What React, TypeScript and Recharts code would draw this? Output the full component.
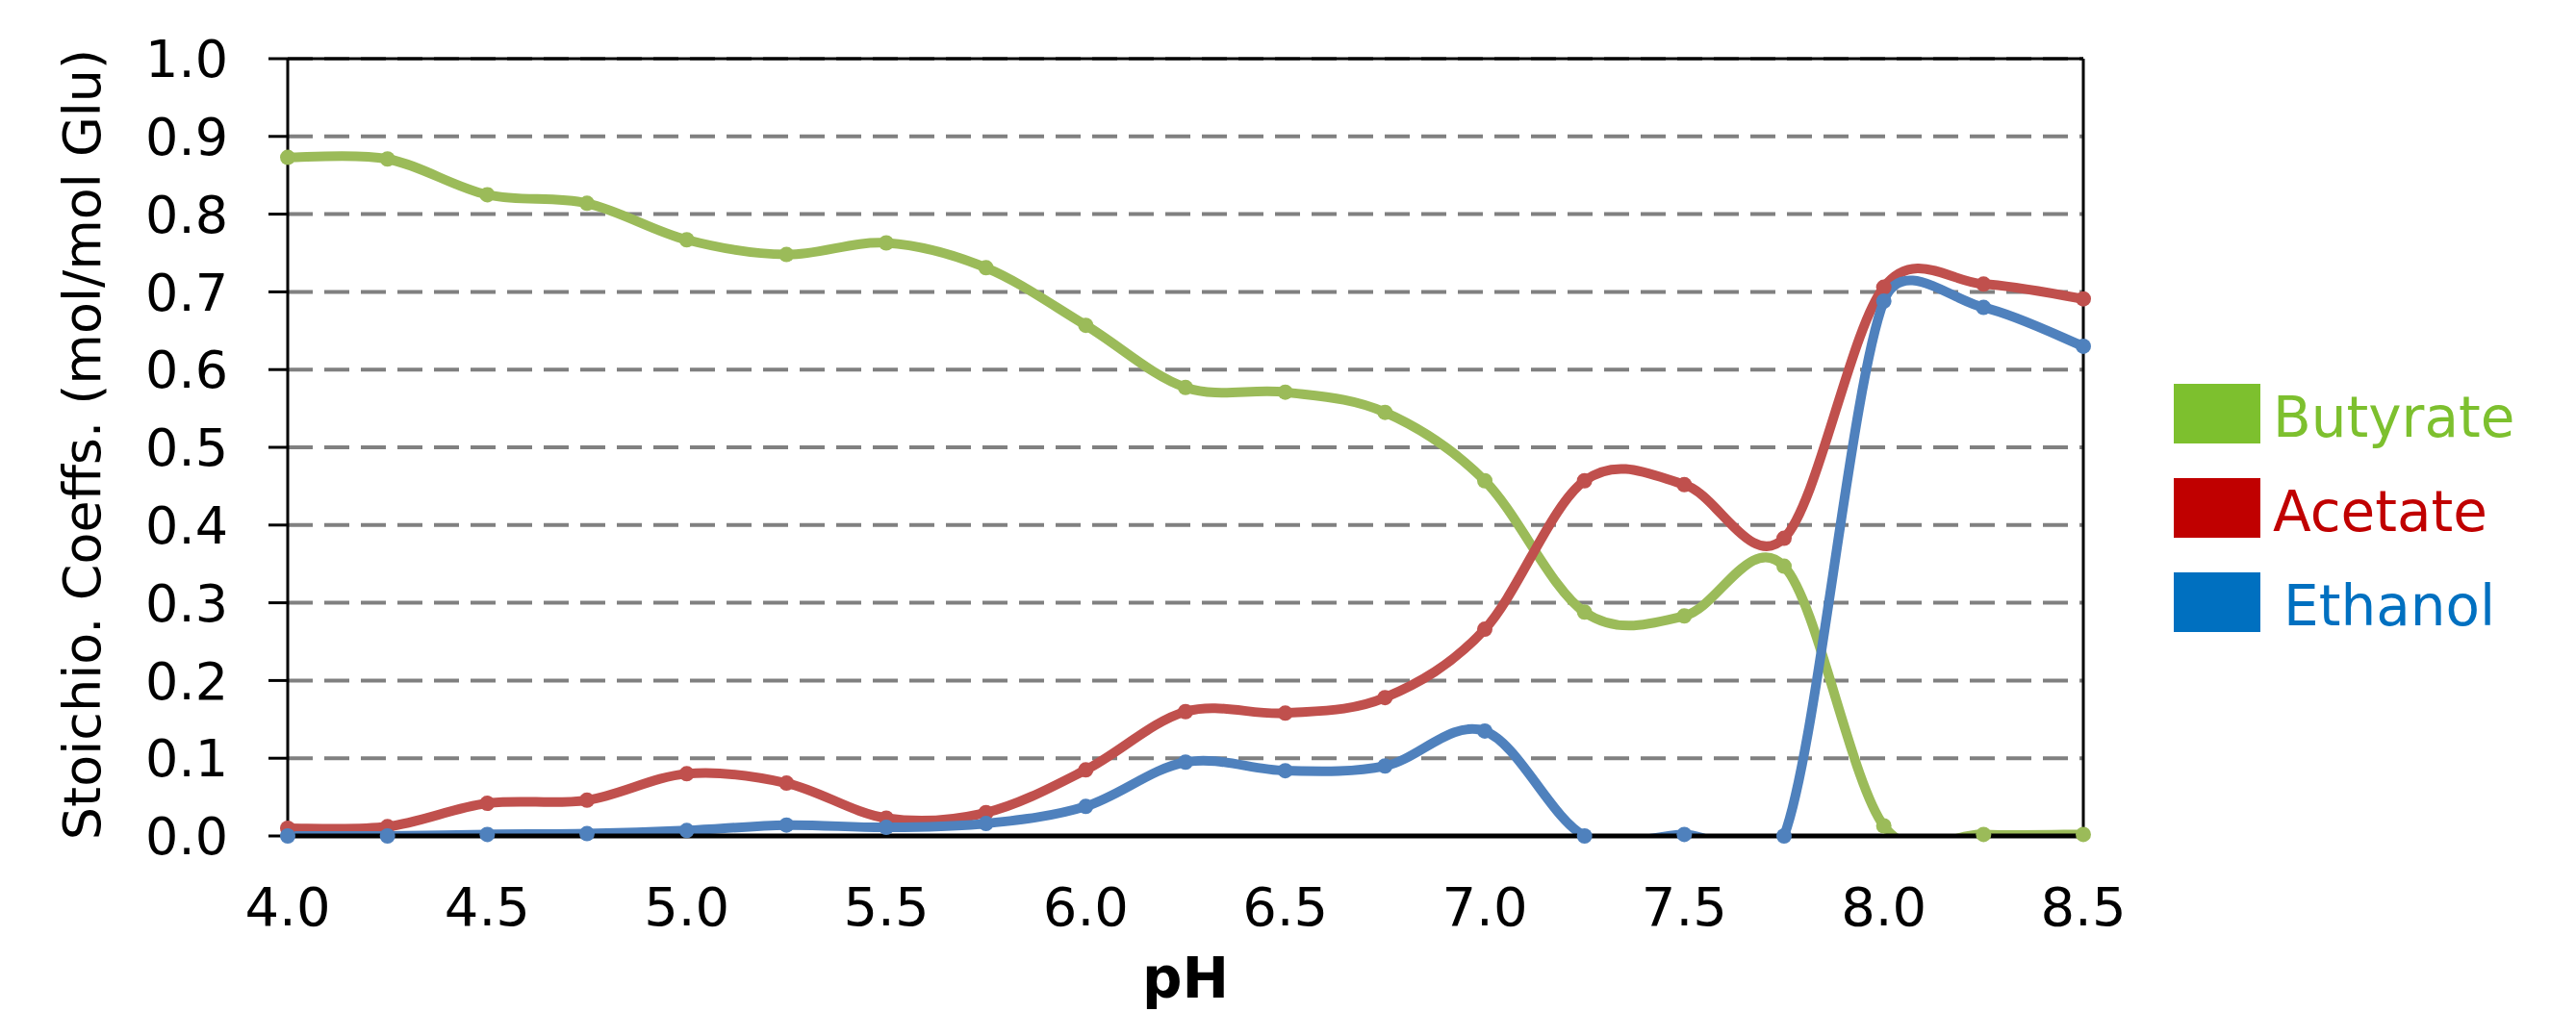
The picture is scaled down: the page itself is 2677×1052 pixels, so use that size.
import { LineChart, Line, XAxis, YAxis, CartesianGrid, ReferenceLine, Legend, Label } from "recharts";

const ph = [4.0, 4.25, 4.5, 4.75, 5.0, 5.25, 5.5, 5.75, 6.0, 6.25, 6.5, 6.75, 7.0, 7.25, 7.5, 7.75, 8.0, 8.25, 8.5];
const butyrate = [0.873, 0.871, 0.825, 0.814, 0.767, 0.748, 0.763, 0.731, 0.657, 0.577, 0.571, 0.545, 0.457, 0.288, 0.283, 0.347, 0.013, 0.002, 0.002];
const acetate = [0.01, 0.012, 0.042, 0.046, 0.08, 0.068, 0.023, 0.03, 0.085, 0.16, 0.158, 0.178, 0.266, 0.457, 0.452, 0.383, 0.706, 0.71, 0.691];
const ethanol = [0.0, 0.0, 0.002, 0.003, 0.007, 0.014, 0.011, 0.016, 0.038, 0.095, 0.084, 0.09, 0.135, 0.0, 0.002, 0.0, 0.688, 0.68, 0.63];

const xTicks = [4.0, 4.5, 5.0, 5.5, 6.0, 6.5, 7.0, 7.5, 8.0, 8.5];
const yTicks = [0, 0.1, 0.2, 0.3, 0.4, 0.5, 0.6, 0.7, 0.8, 0.9, 1.0];

const seriesKeys = ["butyrate", "acetate", "ethanol"];
const lineColors = ["#9BBB59", "#C0504D", "#4F81BD"];
const legendNames = ["Butyrate", "Acetate", "Ethanol"];
const legendColors = ["#7DC02E", "#C00000", "#0070C0"];

const FONT = "'DejaVu Sans', sans-serif";

const data = ph.map((x, i) => ({
  ph: x,
  butyrate: butyrate[i],
  acetate: acetate[i],
  ethanol: ethanol[i],
}));

const dist = (a: number[], b: number[]) => Math.hypot(a[0] - b[0], a[1] - b[1]);

// Excel-style smoothed line: Catmull-Rom bezier, control arms capped at half the segment
function excelSmooth(context: any) {
  let pts: number[][] = [];
  return {
    areaStart() {},
    areaEnd() {},
    lineStart() { pts = []; },
    lineEnd() {
      const n = pts.length;
      if (!n) return;
      context.moveTo(pts[0][0], pts[0][1]);
      for (let i = 0; i < n - 1; i++) {
        const p0 = pts[i - 1] || pts[i];
        const p1 = pts[i];
        const p2 = pts[i + 1];
        const p3 = pts[i + 2] || p2;
        const d02 = dist(p0, p2);
        const d12 = dist(p1, p2);
        const d13 = dist(p1, p3);
        let f1 = 1 / 6;
        let f2 = 1 / 6;
        if (d02 / 6 >= d12 / 2 && d02 > 0) f1 = d12 / d02 / 2;
        if (d13 / 6 >= d12 / 2 && d13 > 0) f2 = d12 / d13 / 2;
        context.bezierCurveTo(
          p1[0] + (p2[0] - p0[0]) * f1, p1[1] + (p2[1] - p0[1]) * f1,
          p2[0] - (p3[0] - p1[0]) * f2, p2[1] - (p3[1] - p1[1]) * f2,
          p2[0], p2[1]
        );
      }
    },
    point(x: number, y: number) { pts.push([+x, +y]); },
  };
}

function LegendBox() {
  return (
    <div style={{ fontFamily: FONT }}>
      {legendNames.map((name, i) => (
        <div key={name} style={{ display: "flex", alignItems: "center", height: 62, marginBottom: 36 }}>
          <div style={{ width: 90, height: 62, background: legendColors[i] }} />
          <span style={{ marginLeft: name === "Ethanol" ? 24 : 13, fontSize: 58, lineHeight: "62px", paddingTop: 8, color: legendColors[i] }}>{name}</span>
        </div>
      ))}
    </div>
  );
}

export default function App() {
  return (
    <div style={{ position: "absolute", left: 0, top: 0, width: 2677, height: 1052, background: "#fff" }}>
      <LineChart width={2677} height={1052} data={data} margin={{ top: 61, right: 512, bottom: 0, left: 0 }}>
        <CartesianGrid horizontal vertical={false} stroke="#808080" strokeWidth={4} strokeDasharray="26 12" />
        <XAxis
          dataKey="ph"
          type="number"
          domain={[4, 8.5]}
          ticks={xTicks}
          tickFormatter={(v: number) => v.toFixed(1)}
          height={183}
          axisLine={{ stroke: "#000", strokeWidth: 5 }}
          tickLine={false}
          tickSize={0}
          tickMargin={53}
          tick={{ fontSize: 56, fill: "#000", fontFamily: FONT }}
        >
          <Label
            content={() => (
              <text x={1232} y={1037} textAnchor="middle" fontSize={58} fontWeight="bold" fontFamily={FONT} fill="#000">pH</text>
            )}
          />
        </XAxis>
        <YAxis
          type="number"
          domain={[0, 1]}
          ticks={yTicks}
          allowDataOverflow
          tickFormatter={(v: number) => v.toFixed(1)}
          width={299}
          axisLine={{ stroke: "#000", strokeWidth: 3 }}
          tickLine={{ stroke: "#000", strokeWidth: 3 }}
          tickSize={20}
          tickMargin={42}
          tick={{ fontSize: 54, fill: "#000", fontFamily: FONT }}
        >
          <Label
            content={() => (
              <text x={85} y={462} transform="rotate(-90, 85, 462)" textAnchor="middle" dominantBaseline="central" fontSize={54} fontFamily={FONT} fill="#000">
                Stoichio. Coeffs. (mol/mol Glu)
              </text>
            )}
          />
        </YAxis>
        <ReferenceLine y={1} stroke="#000" strokeWidth={3} />
        <ReferenceLine x={8.5} stroke="#000" strokeWidth={3} />
        {seriesKeys.map((k, i) => (
          <Line
            key={k}
            dataKey={k}
            type={excelSmooth as any}
            stroke={lineColors[i]}
            strokeWidth={10}
            dot={{ r: 8, fill: lineColors[i], stroke: lineColors[i], strokeWidth: 0, clipDot: false } as any}
            activeDot={false}
            isAnimationActive={false}
          />
        ))}
        <Legend
          layout="vertical"
          align="center"
          verticalAlign="middle"
          wrapperStyle={{ left: 2259, top: 399, width: 420 }}
          content={() => <LegendBox />}
        />
      </LineChart>
    </div>
  );
}
